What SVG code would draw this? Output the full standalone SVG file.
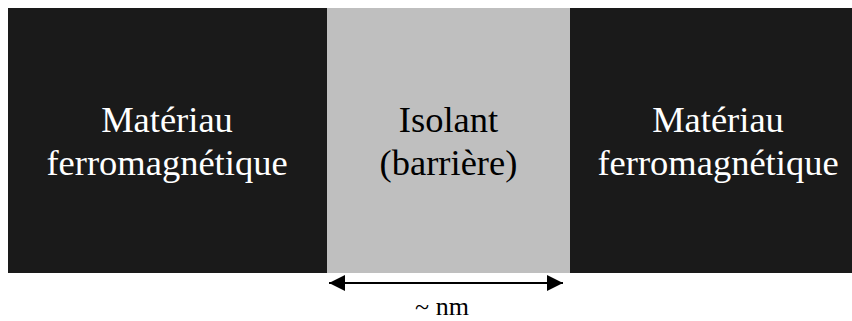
<svg xmlns="http://www.w3.org/2000/svg" width="852" height="321" viewBox="0 0 852 321">
<style>
.t{font-family:"Liberation Serif","Times New Roman",serif;font-size:36.5px;text-anchor:middle}
.w{fill:#ffffff}
.k{fill:#000000}
</style>
<defs>
<marker id="ah" viewBox="0 0 16 16" refX="16" refY="8" markerWidth="16" markerHeight="16" markerUnits="userSpaceOnUse" orient="auto-start-reverse">
<path d="M0,0 L16,8 L0,16 Z" fill="#000"/>
</marker>
</defs>
<rect x="0" y="0" width="852" height="321" fill="#ffffff"/>
<g id="left">
<rect x="8" y="8" width="319" height="265" fill="#1a1a1a"/>
<text class="t w" x="167" y="132">Matériau</text>
<text class="t w" x="167" y="175">ferromagnétique</text>
</g>
<g id="middle">
<rect x="327" y="8" width="243" height="265" fill="#bfbfbf"/>
<text class="t k" x="448.5" y="132">Isolant</text>
<text class="t k" x="448.5" y="175">(barrière)</text>
</g>
<g id="right">
<rect x="570" y="8" width="282" height="265" fill="#1a1a1a"/>
<text class="t w" x="718" y="132">Matériau</text>
<text class="t w" x="718" y="175">ferromagnétique</text>
</g>
<g id="connectors">
<line x1="329" y1="283" x2="563" y2="283" stroke="#000" stroke-width="2" marker-start="url(#ah)" marker-end="url(#ah)"/>
</g>
<text x="442" y="315" style="font-family:'Liberation Serif','Times New Roman',serif;font-size:26px;text-anchor:middle" fill="#000">~ nm</text>
</svg>
